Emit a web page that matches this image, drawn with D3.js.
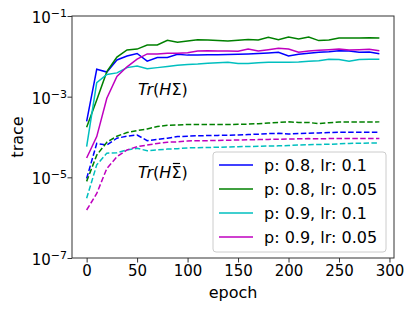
<!DOCTYPE html>
<html>
<head>
<meta charset="utf-8">
<script src="https://cdn.jsdelivr.net/npm/d3@7"></script>
<style>
    body { margin: 0; background: #fff; }
    text { font-family: 'DejaVu Sans', sans-serif; fill: #000; }
</style>
</head>
<body>
<svg id="chart" width="415" height="311"></svg>
<script>
// epochs sampled every 10
const epochs = [0, 10, 20, 30, 40, 50, 60, 70, 80, 90, 100, 110, 120, 130, 140,
    150, 160, 170, 180, 190, 200, 210, 220, 230, 240, 250, 260, 270, 280, 290]

const seriesNames = ['p: 0.8, lr: 0.1', 'p: 0.8, lr: 0.05', 'p: 0.9, lr: 0.1', 'p: 0.9, lr: 0.05']
const seriesColors = ['#0000ff', '#008000', '#00bfbf', '#bf00bf']

// log10 of Tr(H Sigma), one array per run
const trHSigmaBlue = [-3.61, -2.32, -2.39, -2.09, -1.99, -1.93, -2.12, -2.03, -2.03, -1.95,
    -1.97, -1.97, -1.96, -1.96, -1.955, -1.95, -1.94, -1.93, -1.915, -1.90,
    -1.99, -1.95, -1.925, -1.90, -1.885, -1.86, -1.87, -1.90, -1.89, -1.935]
const trHSigmaGreen = [-3.76, -3.08, -2.38, -2.02, -1.84, -1.82, -1.72, -1.72, -1.60, -1.65,
    -1.62, -1.59, -1.595, -1.61, -1.62, -1.60, -1.58, -1.595, -1.53, -1.59,
    -1.52, -1.57, -1.52, -1.61, -1.595, -1.545, -1.545, -1.545, -1.537, -1.545]
const trHSigmaCyan = [-4.24, -2.65, -2.45, -2.41, -2.28, -2.24, -2.305, -2.28, -2.25, -2.22,
    -2.20, -2.19, -2.174, -2.157, -2.149, -2.18, -2.18, -2.157, -2.149, -2.149,
    -2.149, -2.14, -2.124, -2.11, -2.074, -2.08, -2.124, -2.08, -2.074, -2.074]
const trHSigmaMagenta = [-4.52, -3.99, -3.04, -2.50, -2.26, -2.07, -1.94, -1.94, -1.925, -1.925,
    -1.91, -1.868, -1.859, -1.868, -1.868, -1.876, -1.818, -1.868, -1.835, -1.80,
    -1.818, -1.90, -1.868, -1.851, -1.835, -1.818, -1.843, -1.835, -1.826, -1.859]

// log10 of Tr(H Sigma-bar)
const trHSigmaBarBlue = [-5.03, -4.16, -4.20, -4.03, -3.98, -3.95, -4.09, -4.06, -4.03, -3.99,
    -3.98, -3.97, -3.965, -3.96, -3.955, -3.95, -3.94, -3.93, -3.915, -3.91,
    -3.925, -3.915, -3.905, -3.90, -3.89, -3.88, -3.88, -3.885, -3.885, -3.885]
const trHSigmaBarGreen = [-5.10, -4.45, -4.13, -3.98, -3.89, -3.84, -3.80, -3.74, -3.71, -3.70,
    -3.69, -3.69, -3.69, -3.69, -3.69, -3.685, -3.68, -3.67, -3.655, -3.64,
    -3.625, -3.64, -3.64, -3.67, -3.645, -3.63, -3.63, -3.63, -3.628, -3.625]
const trHSigmaBarCyan = [-5.52, -4.69, -4.40, -4.39, -4.32, -4.28, -4.34, -4.32, -4.30, -4.29,
    -4.27, -4.265, -4.26, -4.255, -4.25, -4.24, -4.235, -4.23, -4.225, -4.22,
    -4.21, -4.20, -4.19, -4.185, -4.18, -4.17, -4.16, -4.155, -4.15, -4.15]
const trHSigmaBarMagenta = [-5.81, -5.40, -4.78, -4.49, -4.32, -4.24, -4.20, -4.16, -4.13, -4.12,
    -4.10, -4.09, -4.09, -4.085, -4.08, -4.075, -4.07, -4.065, -4.06, -4.055,
    -4.05, -4.045, -4.04, -4.045, -4.04, -4.04, -4.04, -4.04, -4.04, -4.04]

const xTicks = [0, 50, 100, 150, 200, 250, 300]
const yTickExponents = [-7, -5, -3, -1]

const trHSigma = [trHSigmaBlue, trHSigmaGreen, trHSigmaCyan, trHSigmaMagenta]
const trHSigmaBar = [trHSigmaBarBlue, trHSigmaBarGreen, trHSigmaBarCyan, trHSigmaBarMagenta]

function drawChart (svg) {
    const plot = { left: 72, right: 394, top: 16, bottom: 258 }

    const x = d3.scaleLinear()
        .domain([-14.5, 304.5])
        .range([plot.left, plot.right])
    const y = d3.scaleLog()
        .domain([1e-7, 1e-1])
        .range([plot.bottom, plot.top])

    const line = d3.line()
        .x((d, i) => x(epochs[i]))
        .y(d => y(Math.pow(10, d)))

    const gLines = svg.append('g').attr('class', 'g-lines')
    seriesNames.forEach((name, i) => {
        gLines.append('path')
            .datum(trHSigma[i])
            .attr('d', line)
            .attr('fill', 'none')
            .attr('stroke', seriesColors[i])
            .attr('stroke-width', 1.5)
        gLines.append('path')
            .datum(trHSigmaBar[i])
            .attr('d', line)
            .attr('fill', 'none')
            .attr('stroke', seriesColors[i])
            .attr('stroke-width', 1.5)
            .attr('stroke-dasharray', '5.5,2.4')
    })

    // frame
    svg.append('rect')
        .attr('x', plot.left)
        .attr('y', plot.top)
        .attr('width', plot.right - plot.left)
        .attr('height', plot.bottom - plot.top)
        .attr('fill', 'none')
        .attr('stroke', '#333')
        .attr('stroke-width', 1)

    // x axis
    const gx = svg.append('g')
        .attr('transform', `translate(0,${plot.bottom})`)
        .call(d3.axisBottom(x).tickValues(xTicks).tickSize(4.5).tickPadding(3))
    gx.select('.domain').remove()
    gx.selectAll('.tick line').attr('stroke', '#333')
    gx.selectAll('.tick text')
        .attr('font-size', 15)
        .attr('font-family', 'DejaVu Sans')

    // y axis, tick labels as 10^n
    const gy = svg.append('g')
        .attr('transform', `translate(${plot.left},0)`)
        .call(d3.axisLeft(y)
            .tickValues(yTickExponents.map(e => Math.pow(10, e)))
            .tickSize(4.5)
            .tickFormat(''))
    gy.select('.domain').remove()
    gy.selectAll('.tick line').attr('stroke', '#333')

    yTickExponents.forEach(e => {
        const label = svg.append('text')
            .attr('x', plot.left - 5)
            .attr('y', y(Math.pow(10, e)) + 7)
            .attr('text-anchor', 'end')
            .attr('font-size', 15)
        label.append('tspan').text('10')
        label.append('tspan')
            .attr('dy', -6)
            .attr('font-size', 11)
            .text('\u2212' + Math.abs(e))
    })

    // axis labels
    svg.append('text')
        .attr('x', (plot.left + plot.right) / 2)
        .attr('y', 298)
        .attr('text-anchor', 'middle')
        .attr('font-size', 16)
        .text('epoch')
    svg.append('text')
        .attr('transform', `translate(23,${(plot.top + plot.bottom) / 2}) rotate(-90)`)
        .attr('text-anchor', 'middle')
        .attr('font-size', 16)
        .text('trace')

    // annotations
    drawTrace(svg, 138, 95, false)
    drawTrace(svg, 138, 178, true)

    drawLegend(svg)
}

function drawTrace (svg, tx, ty, withBar) {
    const t = svg.append('text')
        .attr('x', tx)
        .attr('y', ty)
        .attr('font-size', 16)
    t.append('tspan').attr('font-style', 'italic').text('Tr')
    t.append('tspan').text('(')
    t.append('tspan').attr('font-style', 'italic').text('H')
    t.append('tspan').text('\u03A3')
    t.append('tspan').text(')')

    if (withBar) {
        // bar over the sigma (char index 4)
        const box = t.node().getExtentOfChar(4)
        svg.append('line')
            .attr('x1', box.x + 1.5)
            .attr('x2', box.x + box.width - 1.5)
            .attr('y1', ty - 14.5)
            .attr('y2', ty - 14.5)
            .attr('stroke', '#000')
            .attr('stroke-width', 1.2)
    }
}

function drawLegend (svg) {
    const gLegend = svg.append('g')
        .attr('class', 'g-legend')
        .attr('transform', 'translate(213,152)')

    gLegend.append('rect')
        .attr('width', 173)
        .attr('height', 100)
        .attr('rx', 3)
        .attr('fill', '#fff')
        .attr('fill-opacity', 0.8)
        .attr('stroke', '#ccc')
        .attr('stroke-width', 1)

    seriesNames.forEach((name, i) => {
        const rowY = 13 + i * 24
        gLegend.append('line')
            .attr('x1', 6)
            .attr('x2', 40)
            .attr('y1', rowY)
            .attr('y2', rowY)
            .attr('stroke', seriesColors[i])
            .attr('stroke-width', 1.5)
        gLegend.append('text')
            .attr('x', 51)
            .attr('y', rowY + 5.5)
            .attr('font-size', 16)
            .text(name)
    })
}

drawChart(d3.select('#chart'))
</script>
</body>
</html>
